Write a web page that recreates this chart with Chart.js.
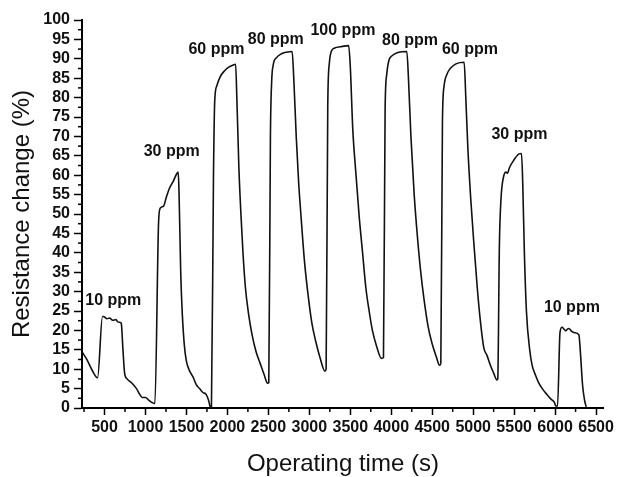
<!DOCTYPE html>
<html>
<head>
<meta charset="utf-8">
<script src="https://cdn.jsdelivr.net/npm/chart.js@4.4.1/dist/chart.umd.min.js"></script>
<style>
  body { margin: 0; background: #fff; }
  #wrap { width: 617px; height: 477px; }
</style>
</head>
<body>
<div id="wrap"><canvas id="myChart" width="617" height="477"></canvas></div>
<script>
// operating time (s) and resistance change (%)
const timeS = [
  230, 287, 347, 415, 475, 488, 530, 560, 600, 640, 660, 700,
  705, 725, 745, 775, 830, 890, 930, 960, 1000, 1040, 1080, 1105,
  1115, 1160, 1180, 1220, 1250, 1290, 1340, 1385, 1400,
  1410, 1430, 1450, 1475, 1500, 1540, 1580, 1620, 1660, 1700, 1740, 1770, 1790,
  1805, 1830, 1845, 1870, 1910, 1960, 2020, 2070, 2100,
  2115, 2140, 2165, 2190, 2220, 2260, 2300, 2350, 2400, 2450, 2490,
  2505, 2525, 2540, 2560, 2600, 2660, 2720, 2790,
  2810, 2840, 2870, 2900, 2940, 2980, 3030, 3080, 3130, 3190,
  3205, 3225, 3245, 3270, 3310, 3380, 3480,
  3500, 3530, 3570, 3610, 3650, 3690, 3730, 3770, 3820, 3880,
  3905, 3925, 3945, 3970, 4010, 4080, 4190,
  4210, 4240, 4280, 4320, 4360, 4400, 4450, 4500, 4550, 4590,
  4605, 4625, 4645, 4680, 4720, 4790, 4890,
  4910, 4935, 4970, 5010, 5050, 5090, 5130, 5170, 5210, 5250, 5290,
  5300, 5320, 5340, 5370, 5400, 5420, 5440, 5500, 5560, 5590,
  5605, 5625, 5650, 5690, 5720, 5760, 5800, 5850, 5900, 5950, 5990, 6010,
  6030, 6060, 6085, 6110, 6130, 6160, 6180, 6200, 6240, 6290,
  6310, 6335, 6360, 6380
];
const resistance = [
  14.3, 12.4, 9.8, 7.8, 23.6, 23.6, 23.0, 23.2, 22.6, 22.8, 22.2, 22.0,
  21.8, 15.0, 9.0, 7.5, 6.5, 5.0, 3.5, 2.7, 2.7, 2.0, 1.4, 1.2,
  1.2, 48.0, 51.5, 52.0, 54.0, 56.5, 58.5, 60.5, 60.8,
  55.0, 35.0, 24.0, 16.0, 12.0, 9.5, 8.0, 6.0, 5.0, 4.0, 3.5, 2.0, 0.3,
  0.2, 60.0, 79.0, 83.0, 85.3, 86.8, 87.9, 88.4, 88.6,
  80.0, 62.0, 50.0, 40.0, 31.0, 24.0, 19.0, 14.5, 11.5, 8.5, 6.4,
  6.5, 70.0, 84.0, 88.5, 90.3, 91.3, 91.7, 91.9,
  85.0, 70.0, 58.0, 49.0, 38.0, 30.0, 22.0, 17.0, 13.0, 9.5,
  10.0, 78.0, 89.0, 92.0, 92.8, 93.1, 93.4,
  88.0, 72.0, 60.0, 49.0, 40.0, 31.0, 25.0, 20.0, 16.0, 12.8,
  13.0, 77.0, 86.0, 89.5, 90.8, 91.6, 91.9,
  85.0, 70.0, 55.0, 44.0, 35.0, 28.0, 21.0, 16.5, 13.2, 11.0,
  11.5, 74.0, 83.0, 86.0, 87.5, 88.7, 89.1,
  80.0, 67.0, 54.0, 42.0, 31.0, 22.0, 15.5, 13.5, 11.0, 9.0, 7.2,
  7.5, 42.0, 54.0, 59.5, 60.8, 60.5, 61.8, 64.0, 65.5, 65.6,
  58.0, 40.0, 25.0, 15.0, 11.0, 8.5, 6.5, 4.8, 3.5, 2.3, 1.5, 0.5,
  0.5, 19.5, 20.8, 20.3, 19.9, 20.5, 20.3, 19.8, 19.4, 18.9,
  14.0, 6.0, 2.0, 0.3
];

const xTicks = [500, 1000, 1500, 2000, 2500, 3000, 3500, 4000, 4500, 5000, 5500, 6000, 6500];
const xMinorTicks = [250, 750, 1250, 1750, 2250, 2750, 3250, 3750, 4250, 4750, 5250, 5750, 6250];
const yTicks = [0, 5, 10, 15, 20, 25, 30, 35, 40, 45, 50, 55, 60, 65, 70, 75, 80, 85, 90, 95, 100];
const yMinorTicks = [2.5, 7.5, 12.5, 17.5, 22.5, 27.5, 32.5, 37.5, 42.5, 47.5, 52.5, 57.5, 62.5, 67.5, 72.5, 77.5, 82.5, 87.5, 92.5, 97.5];

// concentration labels, anchored in data units
const ppmText = ['10 ppm', '30 ppm', '60 ppm', '80 ppm', '100 ppm', '80 ppm', '60 ppm', '30 ppm', '10 ppm'];
const ppmAtTime = [607, 1320, 1866, 2590, 3410, 4230, 4960, 5565, 6205];
const ppmAtValue = [27.6, 66, 92.3, 95, 97.2, 94.7, 92.4, 70.4, 26];

const FONT = "'Liberation Sans', Arial, sans-serif";

const extras = {
    id: 'extras',
    afterDraw(chart) {
        const ctx = chart.ctx;
        const x = chart.scales.x, y = chart.scales.y;
        const area = chart.chartArea;
        ctx.save();
        ctx.strokeStyle = '#000';
        ctx.lineWidth = 1.5;
        xMinorTicks.forEach(v => {
            const px = x.getPixelForValue(v);
            ctx.beginPath();
            ctx.moveTo(px, area.bottom);
            ctx.lineTo(px, area.bottom + 4);
            ctx.stroke();
        });
        yMinorTicks.forEach(v => {
            const py = y.getPixelForValue(v);
            ctx.beginPath();
            ctx.moveTo(area.left, py);
            ctx.lineTo(area.left - 4, py);
            ctx.stroke();
        });
        ctx.fillStyle = '#111';
        ctx.font = 'bold 16px ' + FONT;
        ctx.textAlign = 'center';
        ctx.textBaseline = 'middle';
        ppmText.forEach((t, i) => {
            ctx.fillText(t, x.getPixelForValue(ppmAtTime[i]), y.getPixelForValue(ppmAtValue[i]));
        });
        ctx.restore();
    }
};

const ctx = document.getElementById('myChart').getContext('2d');
const myChart = new Chart(ctx, {
    type: 'line',
    data: {
        datasets: [{
            label: 'Resistance change',
            data: timeS.map((t, i) => ({ x: t, y: resistance[i] })),
            borderColor: '#111',
            borderWidth: 1.6,
            pointRadius: 0,
            fill: false,
            cubicInterpolationMode: 'monotone'
        }]
    },
    options: {
        responsive: false,
        animation: false,
        layout: { padding: { top: 20, right: 10, left: 0, bottom: 0 } },
        plugins: { legend: { display: false }, tooltip: { enabled: false } },
        scales: {
            x: {
                type: 'linear',
                min: 225,
                max: 6595,
                afterBuildTicks: axis => { axis.ticks = xTicks.map(v => ({ value: v })); },
                afterFit: scale => { scale.height = 69; },
                grid: { drawOnChartArea: false, tickLength: 7, tickColor: '#000', tickWidth: 1.5 },
                border: { color: '#000', width: 2 },
                ticks: {
                    color: '#111',
                    font: { family: FONT, size: 16, weight: 'bold' },
                    padding: 3,
                    maxRotation: 0,
                    autoSkip: false,
                    callback: v => String(v)
                },
                title: {
                    display: true,
                    text: 'Operating time (s)',
                    color: '#111',
                    font: { family: FONT, size: 24, lineHeight: 1 },
                    padding: { top: 0, bottom: 1 }
                }
            },
            y: {
                min: 0,
                max: 100,
                afterBuildTicks: axis => { axis.ticks = yTicks.map(v => ({ value: v })); },
                afterFit: scale => { scale.width = 82; },
                grid: { drawOnChartArea: false, tickLength: 8, tickColor: '#000', tickWidth: 1.5 },
                border: { color: '#000', width: 2 },
                ticks: {
                    color: '#111',
                    font: { family: FONT, size: 16, weight: 'bold' },
                    padding: 4,
                    autoSkip: false,
                    callback: v => String(v)
                },
                title: {
                    display: true,
                    text: 'Resistance change (%)',
                    color: '#111',
                    font: { family: FONT, size: 24, lineHeight: 1 },
                    padding: { top: 10, bottom: 0 }
                }
            }
        }
    },
    plugins: [extras]
});
</script>
</body>
</html>
